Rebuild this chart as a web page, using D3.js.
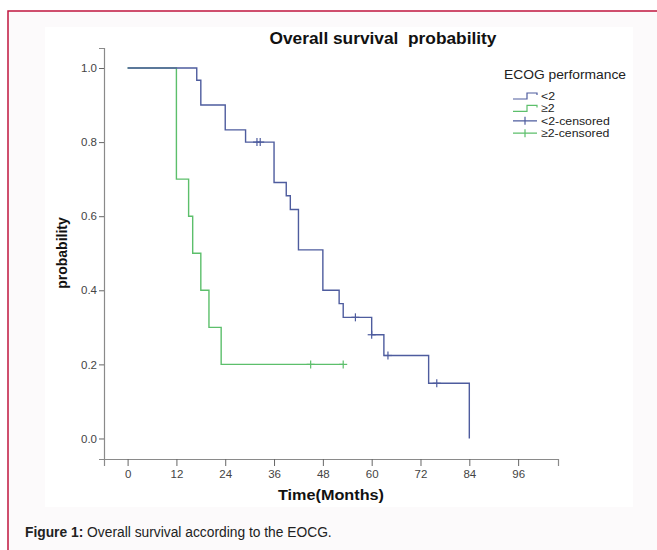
<!DOCTYPE html>
<html>
<head>
<meta charset="utf-8">
<script src="https://cdn.jsdelivr.net/npm/d3@7"></script>
<style>
  body { margin: 0; background: #ffffff; }
  svg { display: block; font-family: Arial, "Liberation Sans", sans-serif; }
</style>
</head>
<body>
<svg id="chart" width="657" height="550"></svg>
<script>
// survival steps
const lowTimes = [0, 17, 18, 24, 29, 36, 39, 40, 42, 48, 52, 53, 60, 63, 74, 84];
const lowSurv = [1, 0.967, 0.9, 0.833, 0.8, 0.691, 0.655, 0.618, 0.509, 0.4, 0.364, 0.327, 0.28, 0.224, 0.149, 0];
const lowEnd = 84;
const lowCensorTimes = [31.8, 32.6, 56, 60, 64, 76];

const highTimes = [0, 12, 15, 16, 18, 20, 23];
const highSurv = [1, 0.7, 0.6, 0.5, 0.4, 0.3, 0.2];
const highEnd = 53;
const highCensorTimes = [45, 53];

const xTicks = [0, 12, 24, 36, 48, 60, 72, 84, 96];
const yTicks = [0, 0.2, 0.4, 0.6, 0.8, 1.0];
const legendLabels = ["<2", "\u22652", "<2-censored", "\u22652-censored"];

const blue = "#4e5c9e";
const green = "#5cbf6b";

const svg = d3.select("#chart");

// frame and panel
svg.append("rect").attr("x", 8).attr("y", 11).attr("width", 700).attr("height", 600)
    .attr("fill", "#fcfafb").attr("stroke", "#c0163f").attr("stroke-width", 1.5);
svg.append("rect").attr("x", 45).attr("y", 27).attr("width", 588).attr("height", 480)
    .attr("fill", "#ffffff");

const x = d3.scaleLinear().domain([-5.8, 105.8]).range([104, 558]);
const y = d3.scaleLinear().domain([-0.0554, 1.054]).range([459, 48]);

// axes
const xAxis = svg.append("g").attr("transform", "translate(0,459)")
    .call(d3.axisBottom(x).tickValues(xTicks).tickSizeOuter(0).tickSize(7).tickPadding(4));
const yAxis = svg.append("g").attr("transform", "translate(104,0)")
    .call(d3.axisLeft(y).tickValues(yTicks).tickFormat(d3.format(".1f")).tickSizeOuter(0).tickSize(5).tickPadding(2));

[xAxis, yAxis].forEach(function (g) {
    g.select(".domain").attr("stroke", "#8a8a8a").attr("stroke-width", 1.2);
    g.selectAll(".tick line").attr("stroke", "#666");
    g.selectAll(".tick text").attr("fill", "#444").style("font-size", "11.5px")
        .style("font-family", "Arial, 'Liberation Sans', sans-serif");
});

// step curves
function stepPoints(times, surv, end) {
    let pts = times.map(function (t, i) { return [t, surv[i]]; });
    if (end > times[times.length - 1]) pts.push([end, surv[surv.length - 1]]);
    return pts;
}

function survAt(times, surv, t) {
    let s = surv[0];
    times.forEach(function (tt, i) { if (tt <= t) s = surv[i]; });
    return s;
}

const line = d3.line()
    .x(function (d) { return x(d[0]); })
    .y(function (d) { return y(d[1]); })
    .curve(d3.curveStepAfter);

svg.append("path").datum(stepPoints(highTimes, highSurv, highEnd))
    .attr("d", line).attr("fill", "none").attr("stroke", green).attr("stroke-width", 1.4);
svg.append("path").datum(stepPoints(lowTimes, lowSurv, lowEnd))
    .attr("d", line).attr("fill", "none").attr("stroke", blue).attr("stroke-width", 1.4);

// censor marks
function addCensors(times, stepT, stepS, color) {
    const g = svg.append("g").attr("stroke", color).attr("stroke-width", 1.2);
    times.forEach(function (t) {
        const cx = x(t), cy = y(survAt(stepT, stepS, t));
        g.append("line").attr("x1", cx).attr("x2", cx).attr("y1", cy - 4).attr("y2", cy + 4);
        g.append("line").attr("x1", cx - 4).attr("x2", cx + 4).attr("y1", cy).attr("y2", cy);
    });
}
addCensors(highCensorTimes, highTimes, highSurv, green);
addCensors(lowCensorTimes, lowTimes, lowSurv, blue);

// titles
svg.append("text").attr("x", 383).attr("y", 44).attr("text-anchor", "middle")
    .style("font-size", "16px").style("font-weight", "bold").style("white-space", "pre")
    .attr("textLength", 227).attr("lengthAdjust", "spacingAndGlyphs")
    .attr("fill", "#111").text("Overall survival  probability");

svg.append("text").attr("transform", "translate(67,253) rotate(-90)")
    .attr("text-anchor", "middle").style("font-size", "14px").style("font-weight", "bold")
    .attr("fill", "#111").text("probability");

svg.append("text").attr("x", 331).attr("y", 500).attr("text-anchor", "middle")
    .style("font-size", "14px").style("font-weight", "bold")
    .attr("textLength", 106).attr("lengthAdjust", "spacingAndGlyphs")
    .attr("fill", "#111").text("Time(Months)");

// legend
const leg = svg.append("g").attr("transform", "translate(503,0)");
leg.append("text").attr("x", 1).attr("y", 79).style("font-size", "13px")
    .attr("textLength", 122).attr("lengthAdjust", "spacingAndGlyphs")
    .attr("fill", "#222").text("ECOG performance");

const legColors = [blue, green, blue, green];
legendLabels.forEach(function (lab, i) {
    const cy = 96 + i * 12.4;
    const c = legColors[i];
    if (i < 2) {
        leg.append("path")
            .attr("d", "M10," + (cy + 3) + "H24V" + (cy - 3) + "H34V" + (cy - 1))
            .attr("fill", "none").attr("stroke", c).attr("stroke-width", 1.2);
    } else {
        leg.append("path")
            .attr("d", "M10," + cy + "H34M22," + (cy - 4) + "V" + (cy + 4))
            .attr("fill", "none").attr("stroke", c).attr("stroke-width", 1.2);
    }
    const t = leg.append("text").attr("x", 38).attr("y", cy + 4).style("font-size", "11.2px")
        .attr("fill", "#222").text(lab);
    // the reference text looks slightly widened
    const w = t.node().getComputedTextLength();
    t.attr("textLength", w * 1.1).attr("lengthAdjust", "spacingAndGlyphs");
});

// caption
const cap = svg.append("text").attr("x", 25).attr("y", 537).style("font-size", "13.8px").attr("fill", "#222");
cap.append("tspan").style("font-weight", "bold").text("Figure 1:");
cap.append("tspan").text(" Overall survival according to the EOCG.");
</script>
</body>
</html>
